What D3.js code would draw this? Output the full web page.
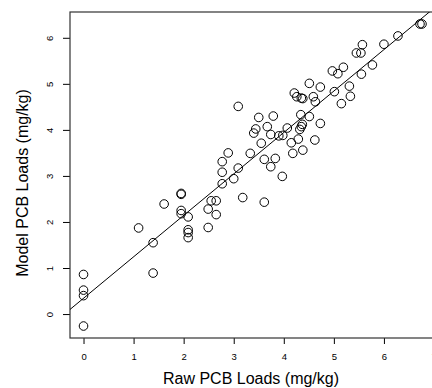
<!DOCTYPE html>
<html>
<head>
<meta charset="utf-8">
<script src="https://cdn.jsdelivr.net/npm/d3@7"></script>
<style>
  body { margin: 0; background: #fff; }
  text { font-family: "Liberation Sans", Arial, sans-serif; }
</style>
</head>
<body>
<script>
// raw vs model PCB loads
var rawLoads = [0, 0, 0, 0, 1.10, 1.39, 1.39, 1.61, 1.95, 1.95, 1.95, 1.95,
    2.09, 2.09, 2.09, 2.09, 2.49, 2.49, 2.55, 2.65, 2.65, 2.77, 2.77, 2.77,
    2.89, 3.00, 3.09, 3.09, 3.18, 3.33, 3.40, 3.44, 3.50, 3.55, 3.61, 3.61,
    3.67, 3.74, 3.74, 3.79, 3.83, 3.90, 3.98, 3.97, 4.07, 4.15, 4.18, 4.21,
    4.26, 4.29, 4.32, 4.34, 4.35, 4.38, 4.37, 4.35, 4.38, 4.51, 4.51, 4.59,
    4.63, 4.62, 4.73, 4.73, 4.97, 5.01, 5.08, 5.19, 5.15, 5.31, 5.33, 5.45,
    5.54, 5.57, 5.55, 5.77, 6.00, 6.28, 6.72, 6.76];
var modelLoads = [0.86, 0.52, 0.40, -0.26, 1.87, 1.55, 0.89, 2.39, 2.62, 2.60, 2.25, 2.18,
    2.11, 1.83, 1.77, 1.66, 2.28, 1.88, 2.46, 2.46, 2.16, 3.31, 3.08, 2.83,
    3.50, 2.94, 4.51, 3.17, 2.53, 3.49, 3.93, 4.02, 4.27, 3.71, 3.36, 2.43,
    4.07, 3.90, 3.20, 4.30, 3.38, 3.87, 3.88, 2.99, 4.04, 3.72, 3.49, 4.80,
    4.72, 3.80, 4.01, 4.33, 4.69, 4.68, 4.12, 4.07, 3.56, 5.01, 4.29, 4.72,
    4.61, 3.78, 4.93, 4.14, 5.28, 4.83, 5.22, 5.36, 4.57, 4.95, 4.73, 5.67,
    5.67, 5.85, 5.21, 5.41, 5.86, 6.04, 6.30, 6.30];

// fitted line: model = a + b * raw
var fitIntercept = 0.343,
    fitSlope = 0.9;

var xTicks = [0, 1, 2, 3, 4, 5, 6, 7],
    yTicks = [0, 1, 2, 3, 4, 5, 6];

var W = 432, H = 388;
var plotLeft = 70, plotRight = 435, plotTop = 12, plotBottom = 338;

var x = d3.scaleLinear().domain([-0.27, 7.02]).range([plotLeft, plotRight]);
var y = d3.scaleLinear().domain([-0.52, 6.56]).range([plotBottom, plotTop]);

var svg = d3.select('body').append('svg')
    .attr('width', W)
    .attr('height', H);

svg.append('defs').append('clipPath')
    .attr('id', 'plotclip')
  .append('rect')
    .attr('x', plotLeft).attr('y', plotTop)
    .attr('width', plotRight - plotLeft).attr('height', plotBottom - plotTop);

// x axis
var xAxis = svg.append('g')
    .attr('transform', 'translate(0,' + plotBottom + ')')
    .call(d3.axisBottom(x).tickValues(xTicks).tickSize(6).tickPadding(9).tickFormat(d3.format('d')));
xAxis.select('.domain').remove();
xAxis.selectAll('line').attr('stroke', '#000');
xAxis.selectAll('text').attr('font-size', 9.5).attr('fill', '#000')
    .style('font-family', '"Liberation Sans", Arial, sans-serif');

// y axis, labels turned like R does
var yAxis = svg.append('g')
    .attr('transform', 'translate(' + plotLeft + ',0)')
    .call(d3.axisLeft(y).tickValues(yTicks).tickSize(7).tickFormat(d3.format('d')));
yAxis.select('.domain').remove();
yAxis.selectAll('line').attr('stroke', '#000');
yAxis.selectAll('text')
    .attr('x', null).attr('dy', null)
    .attr('text-anchor', 'middle')
    .attr('font-size', 9.5).attr('fill', '#000')
    .style('font-family', '"Liberation Sans", Arial, sans-serif')
    .attr('transform', 'translate(-17,0) rotate(-90)');

// box round the plot
svg.append('rect')
    .attr('x', plotLeft).attr('y', plotTop)
    .attr('width', plotRight - plotLeft).attr('height', plotBottom - plotTop)
    .attr('fill', 'none')
    .attr('stroke', '#333')
    .attr('stroke-width', 1.2);

// fitted line
svg.append('line')
    .attr('clip-path', 'url(#plotclip)')
    .attr('x1', x(-0.27)).attr('y1', y(fitIntercept + fitSlope * -0.27))
    .attr('x2', x(7.02)).attr('y2', y(fitIntercept + fitSlope * 7.02))
    .attr('stroke', '#000')
    .attr('stroke-width', 1);

// points
svg.append('g').selectAll('circle')
    .data(rawLoads)
    .enter().append('circle')
    .attr('cx', function(d) { return x(d); })
    .attr('cy', function(d, i) { return y(modelLoads[i]); })
    .attr('r', 4.3)
    .attr('fill', 'none')
    .attr('stroke', '#000')
    .attr('stroke-width', 1);

// axis titles
svg.append('text')
    .attr('x', 251).attr('y', 384)
    .attr('text-anchor', 'middle')
    .attr('font-size', 16)
    .text('Raw PCB Loads (mg/kg)');

svg.append('text')
    .attr('transform', 'translate(28,183) rotate(-90)')
    .attr('text-anchor', 'middle')
    .attr('font-size', 16)
    .text('Model PCB Loads (mg/kg)');
</script>
</body>
</html>
